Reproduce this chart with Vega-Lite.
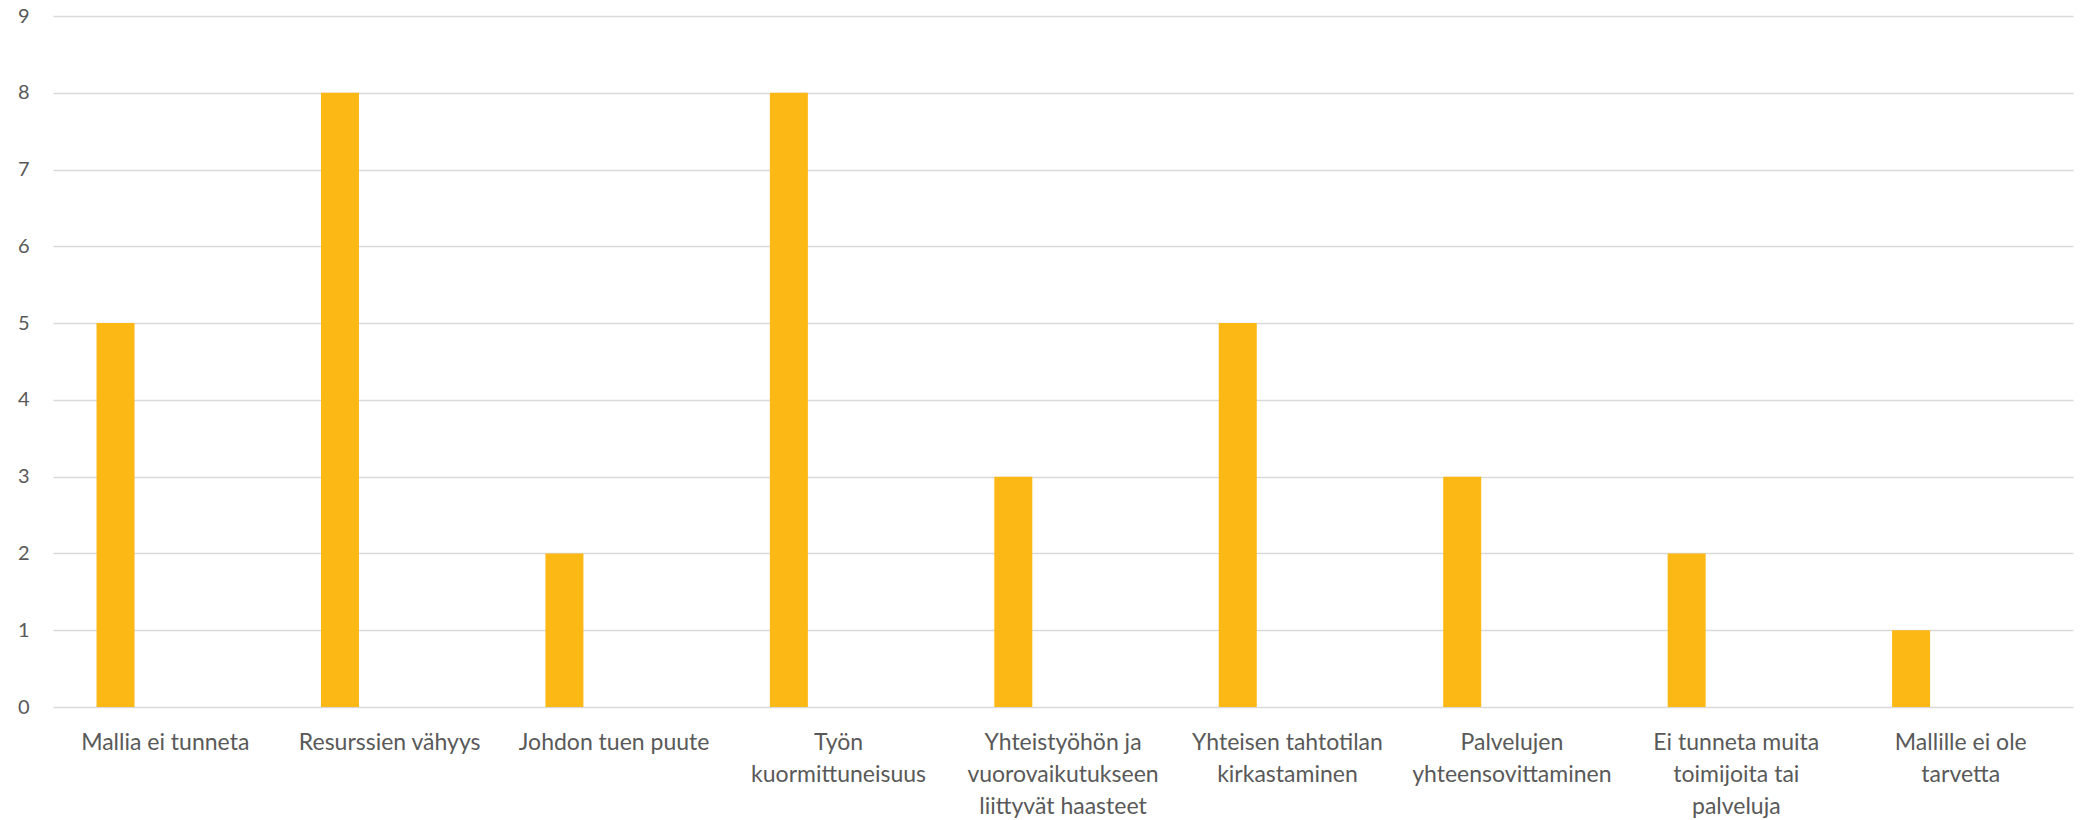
{
  "$schema": "https://vega.github.io/schema/vega-lite/v6.json",
  "width": 2020,
  "height": 691,
  "autosize": "none",
  "padding": {"left": 53, "top": 16, "right": 10, "bottom": 113},
  "background": "white",
  "config": {
    "view": {"stroke": null},
    "font": "Lato"
  },
  "data": {
    "values": [
      {"syy": "Mallia ei tunneta", "sarja": "a", "lkm": 5},
      {"syy": "Resurssien vähyys", "sarja": "a", "lkm": 8},
      {"syy": "Johdon tuen puute", "sarja": "a", "lkm": 2},
      {"syy": "Työn kuormittuneisuus", "sarja": "a", "lkm": 8},
      {"syy": "Yhteistyöhön ja vuorovaikutukseen liittyvät haasteet", "sarja": "a", "lkm": 3},
      {"syy": "Yhteisen tahtotilan kirkastaminen", "sarja": "a", "lkm": 5},
      {"syy": "Palvelujen yhteensovittaminen", "sarja": "a", "lkm": 3},
      {"syy": "Ei tunneta muita toimijoita tai palveluja", "sarja": "a", "lkm": 2},
      {"syy": "Mallille ei ole tarvetta", "sarja": "a", "lkm": 1}
    ]
  },
  "mark": {"type": "bar", "color": "#FCB814"},
  "encoding": {
    "x": {
      "field": "syy",
      "type": "nominal",
      "sort": null,
      "scale": {"paddingInner": 0, "paddingOuter": 0},
      "axis": {
        "title": null,
        "labelAngle": 0,
        "ticks": false,
        "tickSize": 0,
        "domain": false,
        "labelFont": "Lato",
        "labelFontSize": 23,
        "labelColor": "#595959",
        "labelBaseline": "alphabetic",
        "labelPadding": 42,
        "labelLineHeight": 32,
        "labelLimit": 400,
        "labelExpr": "datum.value == 'Työn kuormittuneisuus' ? ['Työn', 'kuormittuneisuus'] : datum.value == 'Yhteistyöhön ja vuorovaikutukseen liittyvät haasteet' ? ['Yhteistyöhön ja', 'vuorovaikutukseen', 'liittyvät haasteet'] : datum.value == 'Yhteisen tahtotilan kirkastaminen' ? ['Yhteisen tahtotilan', 'kirkastaminen'] : datum.value == 'Palvelujen yhteensovittaminen' ? ['Palvelujen', 'yhteensovittaminen'] : datum.value == 'Ei tunneta muita toimijoita tai palveluja' ? ['Ei tunneta muita', 'toimijoita tai', 'palveluja'] : datum.value == 'Mallille ei ole tarvetta' ? ['Mallille ei ole', 'tarvetta'] : datum.value"
      }
    },
    "xOffset": {
      "field": "sarja",
      "type": "nominal",
      "scale": {"domain": ["a", "b", "c", "d"], "paddingInner": 0, "paddingOuter": 0.953, "align": 0.601}
    },
    "y": {
      "field": "lkm",
      "type": "quantitative",
      "scale": {"domain": [0, 9], "nice": false},
      "axis": {
        "title": null,
        "values": [0, 1, 2, 3, 4, 5, 6, 7, 8, 9],
        "domain": false,
        "ticks": false,
        "tickSize": 0,
        "labelPadding": 24,
        "labelFont": "Lato",
        "labelFontSize": 20,
        "labelColor": "#595959",
        "grid": true,
        "gridColor": "#D9D9D9",
        "gridWidth": 1.3
      }
    }
  }
}
